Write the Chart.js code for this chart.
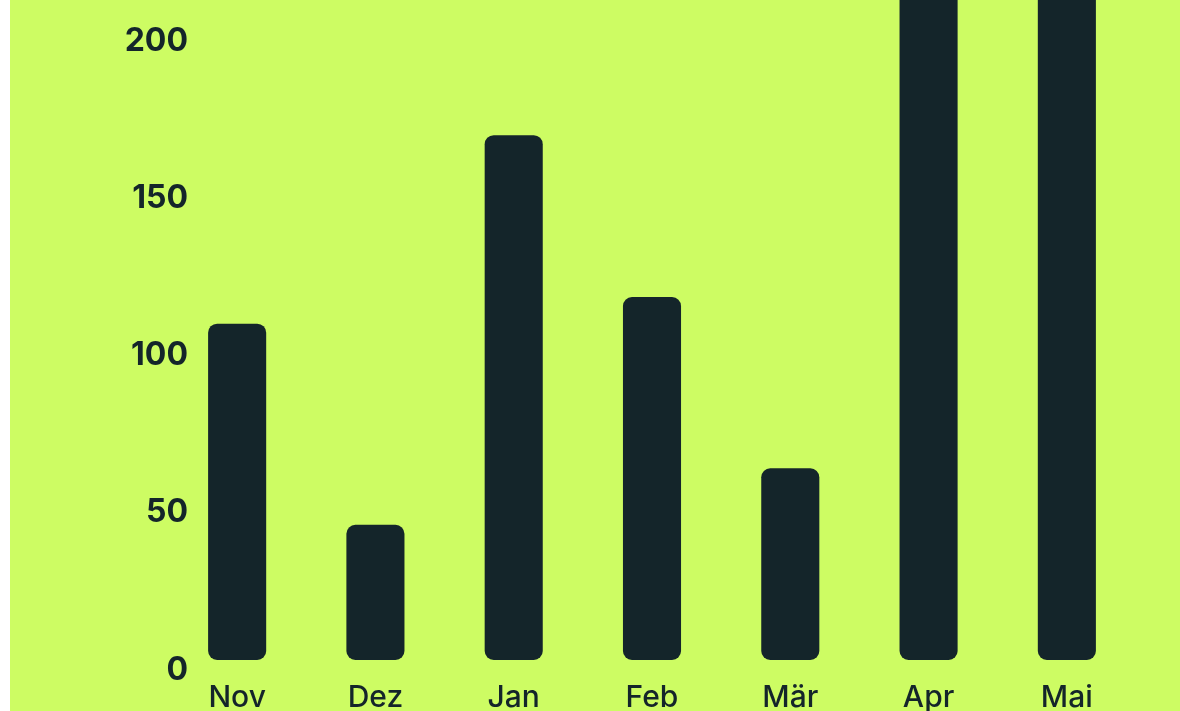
<!DOCTYPE html>
<html>
<head>
<meta charset="utf-8">
<script src="https://cdn.jsdelivr.net/npm/chart.js@4/dist/chart.umd.min.js"></script>
<style>
  html, body { margin: 0; padding: 0; background: #ffffff; width: 1180px; height: 711px; overflow: hidden; }
  #wrap { position: absolute; left: 10px; top: 0; width: 1170px; height: 711px; background: #cdfc63; }
  canvas { display: block; }
</style>
</head>
<body>
<div id="wrap"><canvas id="c" width="1170" height="711"></canvas></div>
<script>
const categories = ['Nov', 'Dez', 'Jan', 'Feb', 'Mär', 'Apr', 'Mai'];
const values = [107, 43, 167, 115.5, 61, 240, 235];
const yTicks = [0, 50, 100, 150, 200];

const ink = '#14252a';

new Chart(document.getElementById('c'), {
  type: 'bar',
  data: {
    labels: categories,
    datasets: [{
      data: values,
      backgroundColor: ink,
      borderRadius: 9,
      borderSkipped: false,
      categoryPercentage: 1,
      barPercentage: 0.42
    }]
  },
  options: {
    responsive: false,
    animation: false,
    events: [],
    layout: { padding: { left: 0, right: 44, top: 0, bottom: 0 } },
    plugins: { legend: { display: false }, tooltip: { enabled: false } },
    scales: {
      x: {
        grid: { display: false, drawTicks: false },
        border: { display: false },
        ticks: {
          color: ink,
          padding: 20,
          font: { family: 'Inter', size: 30, weight: 500 },
          maxRotation: 0
        },
        afterFit: s => { s.height = 51; s.paddingLeft = 0; s.paddingRight = 0; }
      },
      y: {
        min: 0,
        max: 210,
        grid: { display: false, drawTicks: false },
        border: { display: false },
        afterBuildTicks: s => { s.ticks = yTicks.map(v => ({ value: v })); },
        ticks: {
          color: ink,
          padding: -20,
          labelOffset: 10,
          font: { family: 'Inter', size: 32, weight: 700 }
        },
        afterFit: s => {
          s.width = 158;
          s.paddingTop = 0;
          s.paddingBottom = 0;
          s._computeLabelArea = () => null;
        }
      }
    }
  }
});
</script>
</body>
</html>
